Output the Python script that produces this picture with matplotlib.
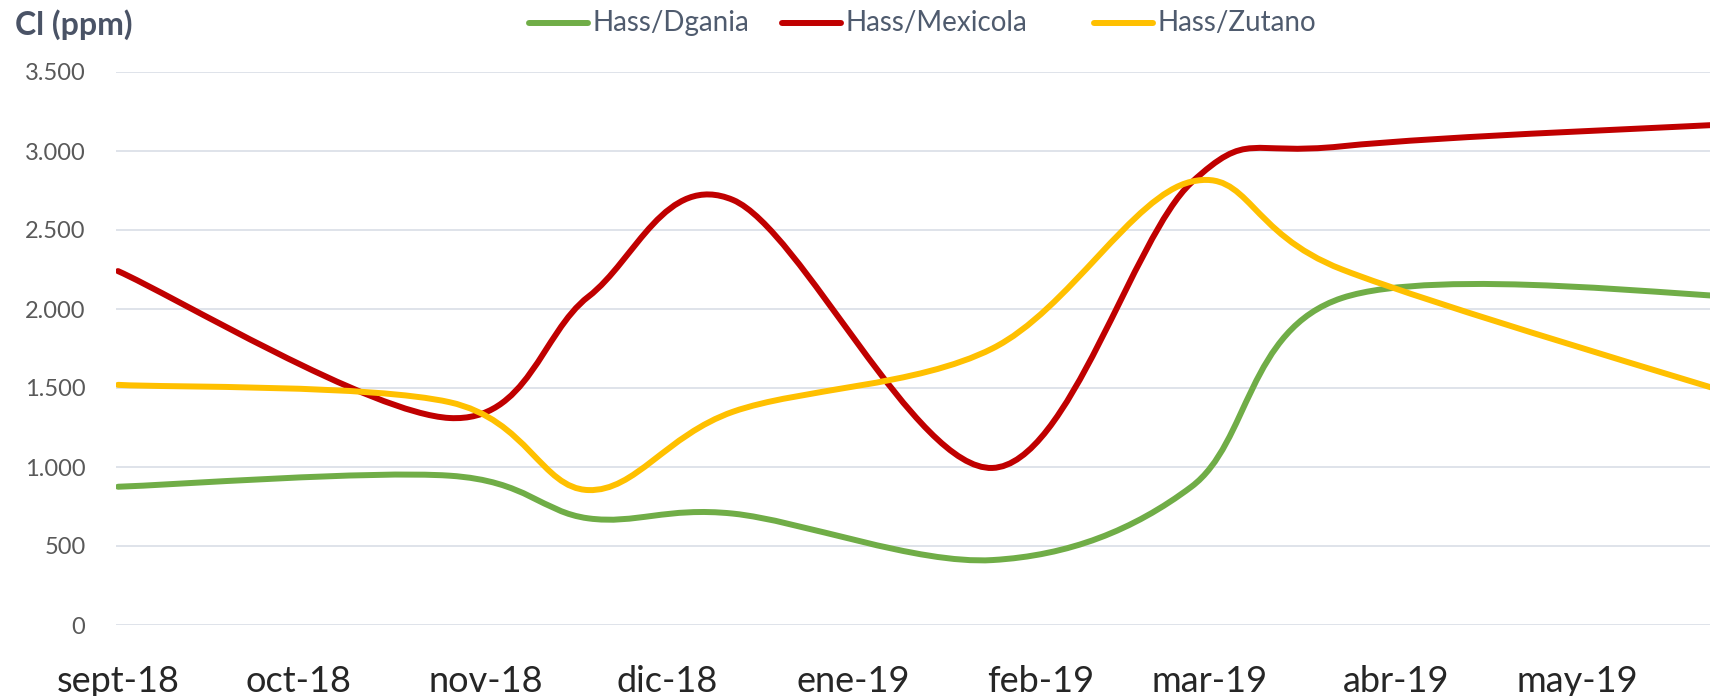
import numpy as np
import pandas as pd
import matplotlib
matplotlib.use('Agg')
from matplotlib import pyplot as plt
import matplotlib.dates as mdates
from matplotlib.path import Path
from matplotlib.patches import PathPatch
from matplotlib.lines import Line2D

plt.rcParams['font.family'] = ['Lato', 'DejaVu Sans']

# fechas de muestreo y Cl (ppm) por combinación
fechas = ['2018-09-01', '2018-10-26', '2018-11-18', '2018-12-12', '2019-01-24',
          '2019-02-26', '2019-03-23', '2019-06-01']
dgania = [875, 945, 675, 705, 411, 875, 2070, 2070]
mexicola = [2240, 1310, 2078, 2690, 994, 2800, 3030, 3180]
zutano = [1520, 1410, 854, 1350, 1750, 2806, 2250, 1400]

series = ['Hass/Dgania', 'Hass/Mexicola', 'Hass/Zutano']
colores = ['#70AD47', '#C00000', '#FFC000']

meses = ['2018-09-01', '2018-10-01', '2018-11-01', '2018-12-01', '2019-01-01',
         '2019-02-01', '2019-03-01', '2019-04-01', '2019-05-01']
etiquetas = ['sept-18', 'oct-18', 'nov-18', 'dic-18', 'ene-19', 'feb-19',
             'mar-19', 'abr-19', 'may-19']
yticks = [0, 500, 1000, 1500, 2000, 2500, 3000, 3500]


def suave(x, y):
    # curva suavizada tipo Excel (bezier por los puntos)
    p = np.column_stack([x, y]).astype(float)
    n = len(p)
    verts = [p[0]]
    codes = [Path.MOVETO]
    for i in range(n - 1):
        a = p[i - 1] if i > 0 else p[i]
        b = p[i + 2] if i + 2 < n else p[i + 1]
        verts += [p[i] + (p[i + 1] - a) / 6, p[i + 1] - (b - p[i]) / 6, p[i + 1]]
        codes += [Path.CURVE4] * 3
    return Path(verts, codes)


x = mdates.date2num(pd.to_datetime(fechas))
x0 = mdates.date2num(pd.Timestamp('2018-09-01'))

W, H = 1710, 696
fig = plt.figure(figsize=(W / 100, H / 100), dpi=100)
ax = fig.add_axes([116 / W, 71 / H, 1594 / W, 553 / H])

for vals, col in zip([dgania, mexicola, zutano], colores):
    ax.add_patch(PathPatch(suave(x, vals), fill=False, edgecolor=col, lw=4.3,
                           capstyle='round', joinstyle='round', zorder=3))

ax.set_xlim(x0 - 0.33, x0 + 264)
ax.set_ylim(0, 3500)
ax.set_xticks(mdates.date2num(pd.to_datetime(meses)))
ax.set_xticklabels(etiquetas, fontsize=26, color='#262626')
ax.set_yticks(yticks)
ax.set_yticklabels([f'{v:,}'.replace(',', '.') for v in yticks], fontsize=17, color='#595959')
ax.tick_params(axis='x', length=0, pad=29)
ax.tick_params(axis='y', length=0, pad=22)
for s in ax.spines.values():
    s.set_visible(False)
ax.yaxis.grid(True, color='#DCE1E8', lw=1.3)
ax.set_axisbelow(True)

fig.text(15 / W, 1 - 25 / H, 'Cl (ppm)', fontsize=23, fontweight='bold',
         color='#4A5366', va='center', ha='left')

# leyenda arriba, a mano
ley_y = 1 - 23 / H
for nombre, col, x_ini in zip(series, colores, [529, 782, 1094]):
    fig.add_artist(Line2D([x_ini / W, (x_ini + 59) / W], [ley_y, ley_y], color=col,
                          lw=4.3, solid_capstyle='round', transform=fig.transFigure))
    fig.text((x_ini + 63) / W, ley_y, nombre, fontsize=20, color='#4F5B6E',
             va='center', ha='left')

fig.savefig('out.png', dpi=100)
